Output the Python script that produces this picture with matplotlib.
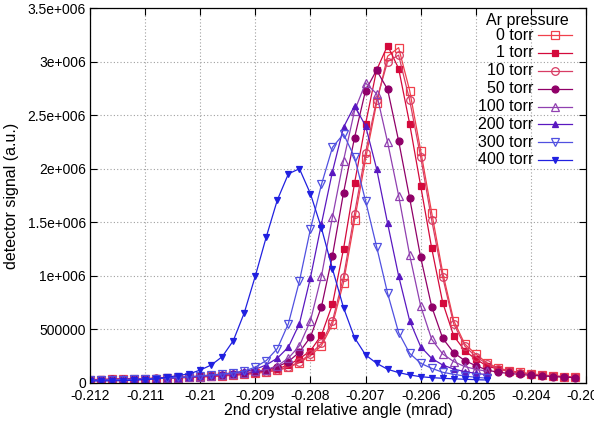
import matplotlib
matplotlib.use('Agg')
import matplotlib.pyplot as plt

plt.rcParams['font.family'] = ['Liberation Sans', 'DejaVu Sans']

# angle grid (mrad), long scans and short scans
angle_long = [-0.2120, -0.2118, -0.2116, -0.2114, -0.2112, -0.2110, -0.2108, -0.2106, -0.2104, -0.2102,
              -0.2100, -0.2098, -0.2096, -0.2094, -0.2092, -0.2090, -0.2088, -0.2086, -0.2084, -0.2082,
              -0.2080, -0.2078, -0.2076, -0.2074, -0.2072, -0.2070, -0.2068, -0.2066, -0.2064, -0.2062,
              -0.2060, -0.2058, -0.2056, -0.2054, -0.2052, -0.2050, -0.2048, -0.2046, -0.2044, -0.2042,
              -0.2040, -0.2038, -0.2036, -0.2034, -0.2032]
angle_short = angle_long[:37]

# detector signal in units of 1e6
sig_0 = [0.030, 0.031, 0.033, 0.035, 0.037, 0.039, 0.042, 0.045, 0.048, 0.052,
         0.056, 0.061, 0.066, 0.072, 0.080, 0.090, 0.102, 0.118, 0.145, 0.190,
         0.255, 0.348, 0.548, 0.937, 1.518, 2.090, 2.610, 3.050, 3.130, 2.730,
         2.170, 1.590, 1.030, 0.582, 0.364, 0.270, 0.190, 0.140, 0.115, 0.100,
         0.085, 0.076, 0.066, 0.060, 0.054]
sig_1 = [0.032, 0.033, 0.035, 0.037, 0.039, 0.041, 0.044, 0.047, 0.051, 0.055,
         0.060, 0.065, 0.071, 0.078, 0.087, 0.098, 0.112, 0.132, 0.168, 0.227,
         0.300, 0.448, 0.735, 1.250, 1.865, 2.417, 2.920, 3.150, 2.935, 2.420,
         1.840, 1.258, 0.750, 0.439, 0.302, 0.222, 0.160, 0.130, 0.110, 0.095,
         0.082, 0.073, 0.064, 0.058, 0.052]
sig_10 = [0.030, 0.031, 0.033, 0.035, 0.037, 0.039, 0.042, 0.045, 0.049, 0.053,
          0.057, 0.062, 0.067, 0.074, 0.082, 0.092, 0.105, 0.122, 0.150, 0.198,
          0.270, 0.370, 0.580, 0.990, 1.580, 2.150, 2.640, 3.000, 3.060, 2.640,
          2.110, 1.520, 0.987, 0.551, 0.346, 0.246, 0.180, 0.135, 0.112, 0.098,
          0.083, 0.074, 0.065, 0.058, 0.052]
sig_50 = [0.030, 0.032, 0.034, 0.036, 0.038, 0.041, 0.044, 0.047, 0.051, 0.056,
          0.061, 0.067, 0.074, 0.082, 0.092, 0.104, 0.122, 0.152, 0.200, 0.288,
          0.429, 0.712, 1.190, 1.775, 2.290, 2.730, 2.920, 2.740, 2.260, 1.726,
          1.173, 0.713, 0.417, 0.283, 0.209, 0.162, 0.122, 0.100, 0.090, 0.080,
          0.072, 0.066, 0.060, 0.055, 0.050]
sig_100 = [0.028, 0.030, 0.032, 0.034, 0.036, 0.039, 0.042, 0.045, 0.049, 0.054,
           0.060, 0.067, 0.075, 0.085, 0.095, 0.108, 0.125, 0.160, 0.232, 0.347,
           0.582, 0.998, 1.550, 2.076, 2.540, 2.800, 2.700, 2.247, 1.750, 1.195,
           0.719, 0.408, 0.271, 0.200, 0.153, 0.128, 0.110]
sig_200 = [0.026, 0.028, 0.030, 0.032, 0.035, 0.038, 0.041, 0.045, 0.050, 0.056,
           0.063, 0.072, 0.082, 0.094, 0.108, 0.128, 0.169, 0.232, 0.335, 0.554,
           0.983, 1.487, 1.974, 2.386, 2.588, 2.400, 2.000, 1.490, 1.000, 0.582,
           0.339, 0.230, 0.168, 0.130, 0.106, 0.090, 0.078]
sig_300 = [0.024, 0.026, 0.028, 0.031, 0.034, 0.037, 0.041, 0.046, 0.052, 0.059,
           0.067, 0.075, 0.084, 0.095, 0.112, 0.148, 0.210, 0.322, 0.554, 0.951,
           1.437, 1.853, 2.200, 2.324, 2.107, 1.700, 1.273, 0.837, 0.470, 0.277,
           0.184, 0.137, 0.100, 0.081, 0.065, 0.053, 0.045]
sig_400 = [0.018, 0.019, 0.020, 0.022, 0.026, 0.032, 0.040, 0.053, 0.070, 0.085,
           0.121, 0.168, 0.246, 0.395, 0.656, 0.999, 1.366, 1.709, 1.952, 2.000,
           1.766, 1.445, 1.064, 0.703, 0.423, 0.262, 0.184, 0.128, 0.097, 0.075,
           0.059, 0.050, 0.044, 0.039, 0.035, 0.031, 0.028]

labels = ['0 torr', '1 torr', '10 torr', '50 torr', '100 torr', '200 torr', '300 torr', '400 torr']
xticks = [-0.212, -0.211, -0.210, -0.209, -0.208, -0.207, -0.206, -0.205, -0.204, -0.203]
xtick_labels = ['-0.212', '-0.211', '-0.21', '-0.209', '-0.208', '-0.207', '-0.206', '-0.205', '-0.204', '-0.203']
yticks = [0, 500000, 1000000, 1500000, 2000000, 2500000, 3000000, 3500000]
ytick_labels = ['0', '500000', '1e+006', '1.5e+006', '2e+006', '2.5e+006', '3e+006', '3.5e+006']

series = [(angle_long, sig_0), (angle_long, sig_1), (angle_long, sig_10), (angle_long, sig_50),
          (angle_short, sig_100), (angle_short, sig_200), (angle_short, sig_300), (angle_short, sig_400)]
colors = ['#f0404c', '#d40a3c', '#d83c64', '#900068', '#9040b0', '#5a18c0', '#5050e0', '#2020e0']
markers = ['s', 's', 'o', 'o', '^', '^', 'v', 'v']
filled = [False, True, False, True, False, True, False, True]

fig = plt.figure(figsize=(5.94, 4.24), dpi=100)
ax = fig.add_axes([90 / 594, 41 / 424, 496 / 594, 375 / 424])

fs = 11.5
tfs = 10
for (xs, ys), c, m, f in zip(series, colors, markers, filled):
    ax.plot(xs, [v * 1e6 for v in ys], color=c, lw=0.9, marker=m,
            ms=5.5 if not f else 5, mfc=c if f else 'none', mec=c, mew=0.9)

ax.set_xlim(-0.212, -0.203)
ax.set_ylim(0, 3500000)
ax.set_xticks(xticks)
ax.set_xticklabels(xtick_labels, fontsize=tfs)
ax.set_yticks(yticks)
ax.set_yticklabels(ytick_labels, fontsize=tfs)
ax.tick_params(direction='in', top=True, right=True, length=5, width=0.8)
ax.tick_params(axis='x', pad=4)
ax.tick_params(axis='y', pad=3)
ax.grid(True, color='#a0a0a0', linestyle=(0, (1, 2)), lw=0.8)
for sp in ax.spines.values():
    sp.set_linewidth(0.9)
ax.set_xlabel('2nd crystal relative angle (mrad)', fontsize=fs)
ax.set_ylabel('detector signal (a.u.)', fontsize=fs)
ax.xaxis.set_label_coords(0.5, (383 - 411) / 375)
ax.yaxis.set_label_coords((12 - 90) / 496, 0.5)
ax.xaxis.label.set_va('center')
ax.yaxis.label.set_va('center')

# gnuplot-style key: right-justified text, then line sample
tr = ax.transAxes
def ax_x(px):
    return (px - 90) / 496
def ax_y(py):
    return (383 - py) / 375

ax.text(ax_x(527), ax_y(20.5), 'Ar pressure', transform=tr, ha='center', va='center', fontsize=fs)
rows = [35, 52.7, 70.7, 88.7, 106.7, 124.3, 142.3, 160]
for lab, c, m, f, py in zip(labels, colors, markers, filled, rows):
    ax.text(ax_x(533), ax_y(py), lab, transform=tr, ha='right', va='center', fontsize=fs)
    ax.plot([ax_x(538), ax_x(572)], [ax_y(py), ax_y(py)], transform=tr, color=c, lw=0.9)
    ax.plot([ax_x(555)], [ax_y(py)], transform=tr, color=c, marker=m,
            ms=5.5 if not f else 5, mfc=c if f else 'none', mec=c, mew=0.9)

fig.savefig('out.png', dpi=100)
